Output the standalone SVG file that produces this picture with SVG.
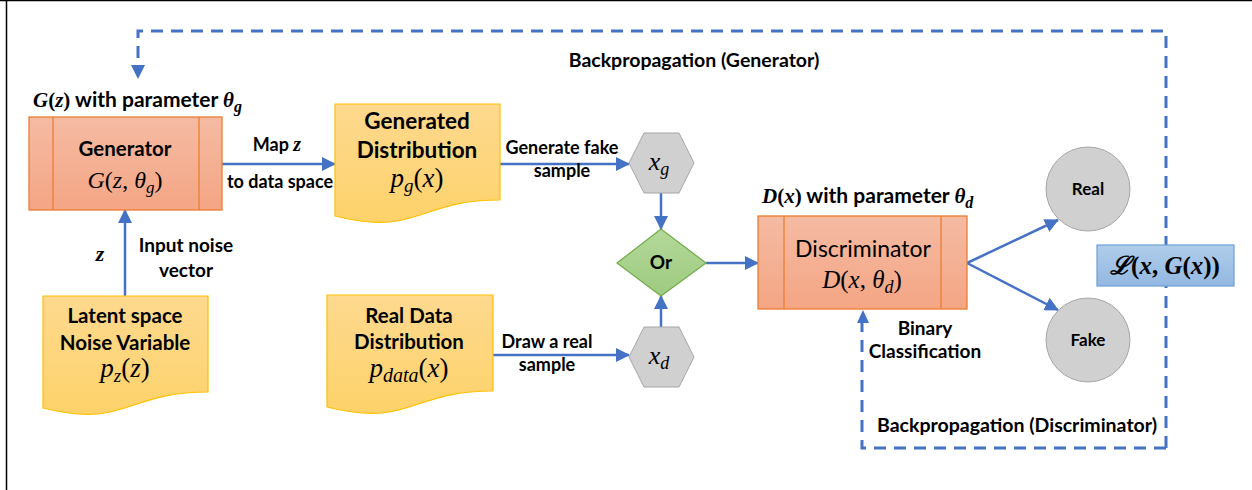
<svg xmlns="http://www.w3.org/2000/svg" width="1252" height="490" viewBox="0 0 1252 490">
<style>
.lbl{font-family:Lato,"Liberation Sans",sans-serif;font-weight:bold;fill:#000;}
.m{font-family:"Liberation Serif","DejaVu Serif",serif;fill:#000;}
.i{font-style:italic;}
.b{font-weight:bold;}
.conn{stroke:#4472c4;stroke-width:2.5;fill:none;}
.dash{stroke:#4472c4;stroke-width:3;fill:none;stroke-dasharray:12 8;}
.box{fill:url(#gOr);stroke:#ed7d31;stroke-width:1.3;}
.doc{fill:url(#gY);stroke:#ffc000;stroke-width:1.2;}
.hex{fill:#d0d0d0;stroke:#a6a6a6;stroke-width:1;}
.circ{fill:#d0d0d0;stroke:#a6a6a6;stroke-width:1;}
</style>
<defs>
<linearGradient id="gOr" x1="0" y1="0" x2="0" y2="1"><stop offset="0" stop-color="#f5bba3"/><stop offset="1" stop-color="#f4a584"/></linearGradient>
<linearGradient id="gY" x1="0" y1="0" x2="0" y2="1"><stop offset="0" stop-color="#fed98f"/><stop offset="1" stop-color="#fdd26a"/></linearGradient>
<linearGradient id="gB" x1="0" y1="0" x2="0" y2="1"><stop offset="0" stop-color="#b0cdea"/><stop offset="1" stop-color="#93b8e2"/></linearGradient>
<linearGradient id="gG" x1="0" y1="0" x2="0" y2="1"><stop offset="0" stop-color="#b4d89a"/><stop offset="1" stop-color="#9dcb80"/></linearGradient>
<marker id="ah" markerUnits="userSpaceOnUse" markerWidth="14" markerHeight="14" viewBox="0 0 14 14" refX="13" refY="7" orient="auto"><path d="M0,0 L14,7 L0,14 Z" fill="#4472c4"/></marker>
</defs>
<rect x="0" y="0" width="1252" height="490" fill="#fff"/>
<path d="M6.5,0 V490 M0,0.5 H1252" stroke="#000" stroke-width="1.5" fill="none"/>

<g id="connectors">
<path class="dash" d="M1166,448 V31 H138 V66"/>
<path d="M131,65 L145,65 L138,79 Z" fill="#4472c4"/>
<path class="dash" d="M1166,448 H862 V322"/>
<path d="M857,323 L869,323 L863,310 Z" fill="#4472c4"/>
<line class="conn" x1="222" y1="164" x2="335" y2="164" marker-end="url(#ah)"/>
<line class="conn" x1="500" y1="164" x2="629" y2="164" marker-end="url(#ah)"/>
<line class="conn" x1="661" y1="193" x2="661" y2="229" marker-end="url(#ah)"/>
<line class="conn" x1="661" y1="327" x2="661" y2="296" marker-end="url(#ah)"/>
<line class="conn" x1="493" y1="355" x2="629" y2="355" marker-end="url(#ah)"/>
<line class="conn" x1="706" y1="263" x2="758" y2="263" marker-end="url(#ah)"/>
<line class="conn" x1="125" y1="296" x2="125" y2="210" marker-end="url(#ah)"/>
<line class="conn" x1="967" y1="263" x2="1058" y2="220" marker-end="url(#ah)"/>
<line class="conn" x1="967" y1="263" x2="1058" y2="310" marker-end="url(#ah)"/>
<text class="lbl" x="694" y="67" font-size="19.5" text-anchor="middle">Backpropagation (Generator)</text>
<text class="lbl" x="1017" y="432" font-size="19.5" text-anchor="middle">Backpropagation (Discriminator)</text>
<text class="lbl" x="277" y="151" font-size="18" text-anchor="middle">Map <tspan class="m i" font-size="20">z</tspan></text>
<text class="lbl" x="280" y="188" font-size="18" text-anchor="middle">to data space</text>
<text class="lbl" x="562" y="154" font-size="18" text-anchor="middle">Generate fake</text>
<text class="lbl" x="562" y="177" font-size="18" text-anchor="middle">sample</text>
<text class="lbl" x="547" y="348" font-size="18" text-anchor="middle">Draw a real</text>
<text class="lbl" x="547" y="371" font-size="18" text-anchor="middle">sample</text>
<text class="lbl" x="186" y="252" font-size="19" text-anchor="middle">Input noise</text>
<text class="lbl" x="186" y="277" font-size="19" text-anchor="middle">vector</text>
<text class="m i b" x="100" y="261" font-size="22" text-anchor="middle">z</text>
<text class="lbl" x="925" y="335" font-size="19" text-anchor="middle">Binary</text>
<text class="lbl" x="925" y="358" font-size="19" text-anchor="middle">Classification</text>
</g>

<g id="generator">
<text x="33" y="107" font-size="21"><tspan class="m i b">G</tspan><tspan class="m b">(</tspan><tspan class="m i b">z</tspan><tspan class="m b">)</tspan><tspan class="lbl"> with parameter </tspan><tspan class="m i b">θ</tspan><tspan class="m i b" font-size="16" dy="5">g</tspan></text>
<rect class="box" x="29" y="117" width="193" height="93"/>
<path d="M53,117 V210 M199,117 V210" stroke="#ed7d31" stroke-width="1.3"/>
<text class="lbl" x="125" y="156" font-size="20.5" text-anchor="middle">Generator</text>
<text class="m" x="125" y="188" font-size="24" text-anchor="middle"><tspan class="i">G</tspan>(<tspan class="i">z</tspan>, <tspan class="i">θ</tspan><tspan class="i" font-size="17" dy="5">g</tspan><tspan dy="-5">)</tspan></text>
</g>

<g id="generated-distribution">
<path class="doc" d="M335,104 H500 V200 C417.5,200 417.5,237 335,216 Z"/>
<text class="lbl" x="417" y="129" font-size="22.5" text-anchor="middle">Generated</text>
<text class="lbl" x="417" y="158" font-size="22.5" text-anchor="middle">Distribution</text>
<text class="m" x="417" y="187" font-size="27" text-anchor="middle"><tspan class="i">p</tspan><tspan class="i" font-size="19" dy="5">g</tspan><tspan dy="-5">(</tspan><tspan class="i">x</tspan>)</text>
</g>

<g id="latent-space">
<path class="doc" d="M43,296 H208 V392 C125.5,392 125.5,429 43,408 Z"/>
<text class="lbl" x="125" y="323" font-size="20.5" text-anchor="middle">Latent space</text>
<text class="lbl" x="125" y="350" font-size="20.5" text-anchor="middle">Noise Variable</text>
<text class="m" x="125" y="377" font-size="27" text-anchor="middle"><tspan class="i">p</tspan><tspan class="i" font-size="19" dy="5">z</tspan><tspan dy="-5">(</tspan><tspan class="i">z</tspan>)</text>
</g>

<g id="real-data">
<path class="doc" d="M327,295 H493 V391 C410,391 410,428 327,407 Z"/>
<text class="lbl" x="409" y="323" font-size="20.5" text-anchor="middle">Real Data</text>
<text class="lbl" x="409" y="349" font-size="20.5" text-anchor="middle">Distribution</text>
<text class="m" x="409" y="377" font-size="27" text-anchor="middle"><tspan class="i">p</tspan><tspan class="i" font-size="20" dy="5">data</tspan><tspan dy="-5">(</tspan><tspan class="i">x</tspan>)</text>
</g>

<g id="xg">
<path class="hex" d="M629,163 L644,133 L679,133 L694,163 L679,193 L644,193 Z"/>
<text class="m" x="659" y="170" font-size="26" text-anchor="middle"><tspan class="i">x</tspan><tspan class="i" font-size="18" dy="5">g</tspan></text>
</g>

<g id="xd">
<path class="hex" d="M629,357 L644,327 L679,327 L694,357 L679,387 L644,387 Z"/>
<text class="m" x="659" y="364" font-size="26" text-anchor="middle"><tspan class="i">x</tspan><tspan class="i" font-size="18" dy="5">d</tspan></text>
</g>

<g id="or">
<path d="M617,263 L661,229 L706,263 L661,296 Z" fill="url(#gG)" stroke="#70ad47" stroke-width="1.2"/>
<text class="lbl" x="661" y="269" font-size="19" text-anchor="middle">Or</text>
</g>

<g id="discriminator">
<text x="762" y="203" font-size="21"><tspan class="m i b">D</tspan><tspan class="m b">(</tspan><tspan class="m i b">x</tspan><tspan class="m b">)</tspan><tspan class="lbl"> with parameter </tspan><tspan class="m i b">θ</tspan><tspan class="m i b" font-size="16" dy="5">d</tspan></text>
<rect class="box" x="758" y="216" width="209" height="93"/>
<path d="M784,216 V309 M941,216 V309" stroke="#ed7d31" stroke-width="1.3"/>
<text x="863" y="257" font-size="23" text-anchor="middle" font-family="Lato,'Liberation Sans',sans-serif">Discriminator</text>
<text class="m" x="862" y="288" font-size="25" text-anchor="middle"><tspan class="i">D</tspan>(<tspan class="i">x</tspan>, <tspan class="i">θ</tspan><tspan class="i" font-size="18" dy="5">d</tspan><tspan dy="-5">)</tspan></text>
</g>

<g id="real">
<circle class="circ" cx="1088" cy="189" r="42"/>
<text class="lbl" x="1088" y="195" font-size="17" text-anchor="middle">Real</text>
</g>

<g id="fake">
<circle class="circ" cx="1088" cy="340" r="42"/>
<text class="lbl" x="1088" y="346" font-size="17" text-anchor="middle">Fake</text>
</g>

<g id="loss">
<rect x="1097" y="245" width="137" height="41" fill="url(#gB)" stroke="#6d9fd6" stroke-width="1.2"/>
<text class="m b" x="1165" y="274" font-size="25" text-anchor="middle"><tspan class="i">ℒ</tspan>(<tspan class="i">x</tspan>, <tspan class="i">G</tspan>(<tspan class="i">x</tspan>))</text>
</g>
</svg>
